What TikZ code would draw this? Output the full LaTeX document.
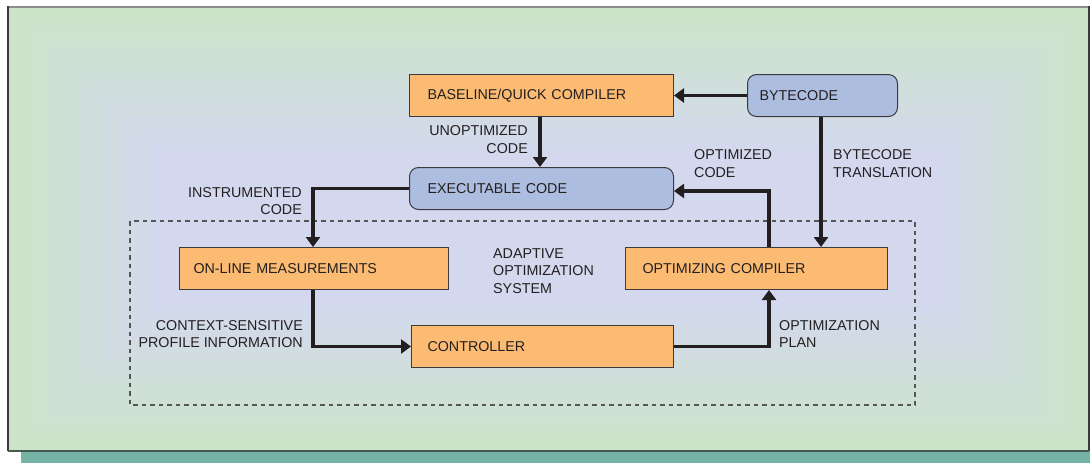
\documentclass[tikz,border=0pt]{standalone}
\usepackage{fontspec}
\setmainfont{Liberation Sans}
\usetikzlibrary{arrows.meta}
\definecolor{bgout}{RGB}{204,229,201}
\definecolor{bgin}{RGB}{212,216,239}
\definecolor{orangefill}{RGB}{251,187,115}
\definecolor{bluefill}{RGB}{173,189,224}
\definecolor{ink}{RGB}{35,31,32}
\definecolor{boxline}{RGB}{60,58,60}
\definecolor{shadowc}{RGB}{116,179,166}
\definecolor{topline}{RGB}{140,140,140}
\definecolor{dashc}{RGB}{85,85,85}
\tikzset{
  box/.style={draw=boxline, line width=1pt, anchor=north west, inner ysep=0pt, align=left, text=ink},
  obox/.style={box, fill=orangefill},
  bbox/.style={box, fill=bluefill, rounded corners=9pt},
  lbl/.style={inner sep=0pt, text=ink},
  arr/.style={draw=ink, line width=3.3pt, -{Triangle[width=14pt,length=10pt]}},
}
\begin{document}
\begin{tikzpicture}[x=1pt,y=-1pt, font=\fontsize{14.3}{17.5}\selectfont]
\useasboundingbox (0,0) rectangle (1090,463);
% shadow
\fill[shadowc] (21,451) rectangle (1090,463);
% background gradient
\foreach \i in {0,...,16} {
  \pgfmathsetmacro\t{\i/16}
  \pgfmathtruncatemacro\pc{100*\t}
  \pgfmathsetmacro\xa{8+\t*(160-8)}
  \pgfmathsetmacro\ya{6+\t*(152-6)}
  \pgfmathsetmacro\xb{1089-\t*(1089-940)}
  \pgfmathsetmacro\yb{451-\t*(451-305)}
  \fill[bgin!\pc!bgout] (\xa,\ya) rectangle (\xb,\yb);
}
% frame
\draw[topline, line width=2pt] (8,6.5) -- (1089,6.5);
\draw[boxline, line width=1.5pt] (8,6) -- (8,451);
\draw[boxline, line width=1.5pt] (1089,6) -- (1089,451);
\draw[RGB/.cd] ;
\draw[color={rgb,255:red,74;green,88;blue,84}, line width=2pt] (8,450.5) -- (1089,450.5);
% dashed system boundary
\draw[dashc, line width=1.2pt, dash pattern=on 4.5pt off 4pt] (130,221) rectangle (915,405);

% nodes
\node[obox, minimum width=264pt, minimum height=42pt, inner xsep=18pt, text width=228pt] (base) at (409,74) {BASELINE/QUICK COMPILER};
\node[bbox, minimum width=150pt, minimum height=42pt, inner xsep=12pt, text width=126pt] (byte) at (747,74) {BYTECODE};
\node[bbox, minimum width=264pt, minimum height=42pt, inner xsep=18pt, text width=228pt] (exec) at (409,167) {EXECUTABLE CODE};
\node[obox, minimum width=269pt, minimum height=42pt, inner xsep=14pt, text width=241pt] (online) at (179,247) {ON-LINE MEASUREMENTS};
\node[obox, minimum width=262pt, minimum height=42pt, inner xsep=17pt, text width=228pt] (opt) at (625,247) {OPTIMIZING COMPILER};
\node[obox, minimum width=262pt, minimum height=42pt, inner xsep=16pt, text width=230pt] (ctrl) at (411,325) {CONTROLLER};

% helper coordinates
\coordinate (xA) at (540,0);
\coordinate (xB) at (821,0);
\coordinate (xC) at (769,0);
\coordinate (xD) at (313,0);
\coordinate (yE) at (0,191);

% connectors
\draw[arr] (byte.west) -- (base.east);
\draw[arr] (base.south -| xA) -- (exec.north -| xA);
\draw[arr] (byte.south -| xB) -- (opt.north -| xB);
\draw[arr] (opt.north -| xC) |- (exec.east |- yE);
\draw[arr] (exec.west) -| (online.north -| xD);
\draw[arr] (online.south -| xD) |- (ctrl.west);
\draw[arr] (ctrl.east) -| (opt.south -| xC);

% labels
\node[lbl, anchor=east, align=right] (l1) at (528,139.5) {UNOPTIMIZED\\CODE};
\node[lbl, anchor=west, align=left] (l2) at (694,163.5) {OPTIMIZED\\CODE};
\node[lbl, anchor=west, align=left] (l3) at (833,163.5) {BYTECODE\\TRANSLATION};
\node[lbl, anchor=east, align=right] (l4) at (302,201) {INSTRUMENTED\\CODE};
\node[lbl, anchor=west, align=left] (l5) at (493,271) {ADAPTIVE\\OPTIMIZATION\\SYSTEM};
\node[lbl, anchor=east, align=right] (l6) at (303,334) {CONTEXT-SENSITIVE\\PROFILE INFORMATION};
\node[lbl, anchor=west, align=left] (l7) at (779,334) {OPTIMIZATION\\PLAN};
\end{tikzpicture}
\end{document}
